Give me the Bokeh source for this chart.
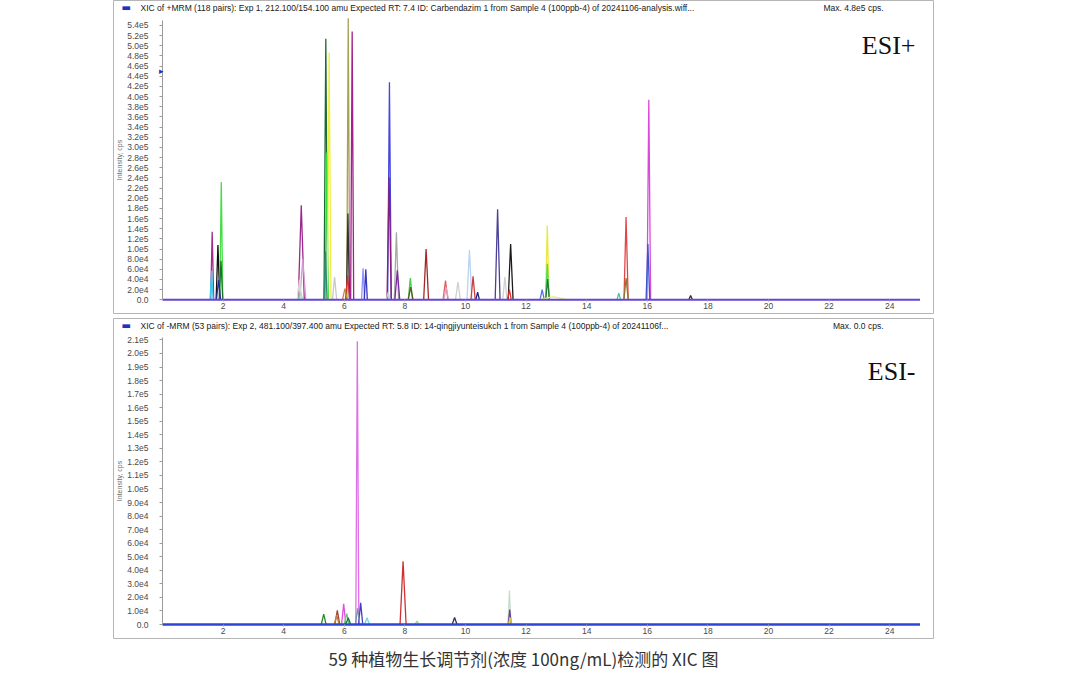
from bokeh.plotting import figure
from bokeh.layouts import column
from bokeh.models import Range1d, FixedTicker, Label, Title, ColumnDataSource
from bokeh.embed import file_html
from bokeh.resources import INLINE

# ---------------- data ----------------
time_ticks = [2, 4, 6, 8, 10, 12, 14, 16, 18, 20, 22, 24]
time_span = [0.0, 25.0]

top_y_ticks = [0, 20000, 40000, 60000, 80000, 100000, 120000, 140000, 160000, 180000,
               200000, 220000, 240000, 260000, 280000, 300000, 320000, 340000, 360000,
               380000, 400000, 420000, 440000, 460000, 480000, 500000, 520000, 540000]
top_y_labels = ["0.0", "2.0e4", "4.0e4", "6.0e4", "8.0e4", "1.0e5", "1.2e5", "1.4e5", "1.6e5",
                "1.8e5", "2.0e5", "2.2e5", "2.4e5", "2.6e5", "2.8e5", "3.0e5", "3.2e5", "3.4e5",
                "3.6e5", "3.8e5", "4.0e5", "4.2e5", "4.4e5", "4.6e5", "4.8e5", "5.0e5", "5.2e5",
                "5.4e5"]

bot_y_ticks = [0, 10000, 20000, 30000, 40000, 50000, 60000, 70000, 80000, 90000, 100000,
               110000, 120000, 130000, 140000, 150000, 160000, 170000, 180000, 190000,
               200000, 210000]
bot_y_labels = ["0.0", "1.0e4", "2.0e4", "3.0e4", "4.0e4", "5.0e4", "6.0e4", "7.0e4", "8.0e4",
                "9.0e4", "1.0e5", "1.1e5", "1.2e5", "1.3e5", "1.4e5", "1.5e5", "1.6e5", "1.7e5",
                "1.8e5", "1.9e5", "2.0e5", "2.1e5"]

# ESI+ peaks: retention time (min), height (cps), half width (min), colour
top_rt = [1.64, 1.62, 1.83, 1.94, 1.93, 1.85,
          4.58, 4.63, 4.55, 4.52,
          5.39, 5.42, 5.50, 5.38, 5.68,
          6.13, 6.12, 6.11, 6.02, 6.26, 6.62, 6.71,
          7.49, 7.48, 7.45, 7.72, 7.75,
          8.18, 8.19, 8.70, 9.34, 9.36, 9.75,
          10.13, 10.25, 10.40, 11.06, 11.30, 11.49, 11.45,
          12.70, 12.70, 12.71, 12.53, 12.90,
          15.06, 15.30, 15.30, 16.05, 16.02, 17.43]
top_height = [134000, 57000, 108000, 232000, 77000, 39000,
              186000, 80000, 18000, 40000,
              514000, 290000, 487000, 95000, 45000,
              554000, 170000, 48000, 22000, 528000, 62000, 60000,
              428000, 241000, 15000, 133000, 58000,
              43000, 25000, 100000, 38000, 24000, 35000,
              98000, 46000, 15000, 178000, 45000, 110000, 20000,
              146000, 71000, 41000, 20000, 6000,
              13000, 163000, 43000, 394000, 110000, 8500]
top_halfwidth = [0.05, 0.05, 0.06, 0.05, 0.06, 0.07,
                 0.10, 0.10, 0.07, 0.07,
                 0.06, 0.05, 0.06, 0.05, 0.07,
                 0.05, 0.05, 0.07, 0.08, 0.05, 0.05, 0.05,
                 0.06, 0.07, 0.06, 0.07, 0.08,
                 0.07, 0.08, 0.08, 0.08, 0.08, 0.08,
                 0.08, 0.07, 0.06, 0.08, 0.07, 0.08, 0.06,
                 0.06, 0.06, 0.06, 0.07, 0.50,
                 0.06, 0.07, 0.07, 0.06, 0.06, 0.06]
top_color = ["#9b2d8f", "#40c8e8", "#111111", "#44dd44", "#1e6e2e", "#2a2aa0",
             "#9a2a8c", "#d59ad5", "#66dd99", "#d8d8d8",
             "#1b6b35", "#33dd33", "#eeee44", "#2e8a70", "#c8c8c8",
             "#aaa055", "#333333", "#cc3333", "#cc8833", "#a0208c", "#9090ff", "#3535c0",
             "#4545e0", "#8a1f7a", "#bbddbb", "#a8a8a8", "#7a2aa0",
             "#44cc44", "#5a5a20", "#a02828", "#e06060", "#e0a0c0", "#d0d0d0",
             "#b8d4f0", "#c84040", "#202080", "#4a4096", "#d0d0d0", "#1a1a1a", "#e03030",
             "#e8e840", "#55dd55", "#227733", "#5577dd", "#eeee88",
             "#40c8a0", "#e04848", "#8a7a30", "#d84ad8", "#3a56c8", "#402828"]

# ESI- peaks
bot_rt = [5.32, 5.77, 5.75, 5.98, 6.08, 6.13, 6.43, 6.54, 6.44, 6.75,
          7.94, 8.40, 9.64, 11.45, 11.46, 11.47]
bot_height = [7700, 10500, 7000, 15200, 8000, 5000, 209000, 16000, 12000, 5000,
              46600, 2500, 5200, 25000, 11000, 5000]
bot_halfwidth = [0.08, 0.08, 0.08, 0.07, 0.08, 0.08, 0.05, 0.07, 0.07, 0.08,
                 0.10, 0.07, 0.08, 0.05, 0.05, 0.05]
bot_color = ["#2a8a2a", "#a04040", "#c08030", "#e050e0", "#66cc66", "#207060", "#e070e8",
             "#4040c0", "#8090b0", "#70d8e8", "#d03030", "#a0d0a0", "#303060", "#c8dccc",
             "#6a40a0", "#d8d040"]

top_title = ("XIC of +MRM (118 pairs): Exp 1, 212.100/154.100 amu Expected RT: 7.4 ID: "
             "Carbendazim 1 from Sample 4 (100ppb-4) of 20241106-analysis.wiff...")
top_max = "Max. 4.8e5 cps."
bot_title = ("XIC of -MRM (53 pairs): Exp 2, 481.100/397.400 amu Expected RT: 5.8 ID: "
             "14-qingjiyunteisukch 1 from Sample 4 (100ppb-4) of 20241106f...")
bot_max = "Max. 0.0 cps."
caption = "59 种植物生长调节剂(浓度 100ng/mL)检测的 XIC 图"

# ---------------- layout constants ----------------
W = 1064
BL, BR = 113, 131          # frame: page x 113..933
X0, X1 = -1.617, 25.446    # data 0 at page x 162


def peak_source(rt, h, hw, col):
    xs = [[r - w, r, r + w] for r, w in zip(rt, hw)]
    ys = [[0, v, 0] for v in h]
    return ColumnDataSource(dict(xs=xs, ys=ys, color=col))


def panel(height, bottom_border, y0, y1, ybound, ticks, labels):
    p = figure(width=W, height=height, x_range=Range1d(X0, X1), y_range=Range1d(y0, y1),
               output_backend="svg", toolbar_location=None,
               min_border_left=BL, min_border_right=BR, min_border_top=0,
               min_border_bottom=bottom_border)
    p.background_fill_color = "white"
    p.border_fill_color = "white"
    p.outline_line_color = "#b5b5b5"
    p.outline_line_width = 1
    p.xgrid.visible = False
    p.ygrid.visible = False

    xa = p.xaxis[0]
    ya = p.yaxis[0]
    xa.fixed_location = 0
    ya.fixed_location = 0
    xa.bounds = (time_span[0], time_span[1])
    ya.bounds = (0, ybound)
    xa.ticker = FixedTicker(ticks=time_ticks)
    ya.ticker = FixedTicker(ticks=ticks)
    ya.major_label_overrides = {t: l for t, l in zip(ticks, labels)}
    for ax in (xa, ya):
        ax.major_label_text_font = "Liberation Sans"
        ax.major_label_text_font_size = "8.5px"
        ax.major_label_text_color = "#4a4a4a"
        ax.major_tick_line_color = "#9a9a9a"
        ax.minor_tick_line_color = None
        ax.major_tick_in = 0
        ax.axis_label_text_font = "Liberation Sans"
        ax.axis_label_text_font_size = "7px"
        ax.axis_label_text_font_style = "normal"
        ax.axis_label_text_color = "#707070"
    xa.axis_line_color = None
    xa.major_tick_out = 2
    xa.major_label_standoff = 1
    xa.axis_label = "Time, min"
    xa.axis_label_standoff = 1
    ya.axis_line_color = "#9a9a9a"
    ya.major_tick_out = 3
    ya.major_label_standoff = 11
    ya.axis_label = "Intensity, cps"
    ya.axis_label_standoff = 1
    return p


# ---------- top panel (ESI+) : frame page y 0..313 ----------
H1F = 313
p1 = panel(318, 5, -26968, 589172, 550000, top_y_ticks, top_y_labels)
p1.multi_line("xs", "ys", source=peak_source(top_rt, top_height, top_halfwidth, top_color),
              line_color="color", line_width=1.3)
p1.line(time_span, [0, 0], line_color="#6446d2", line_width=2)

# ---------- bottom panel (ESI-) : frame page y 318..638 ----------
H2F = 320
p2 = panel(358, 38, -10332, 225828, 212000, bot_y_ticks, bot_y_labels)
p2.multi_line("xs", "ys", source=peak_source(bot_rt, bot_height, bot_halfwidth, bot_color),
              line_color="color", line_width=1.3)
p2.line(time_span, [0, 0], line_color="#2d44d4", line_width=2.5)


def header(p, fh, ty, title, maxtxt, esi, esi_y, marker=False):
    p.add_layout(Label(x=8, y=fh - ty, x_units="screen", y_units="screen", text="▬",
                       text_font="DejaVu Sans", text_font_size="10px", text_color="#2233bb",
                       text_baseline="middle"))
    p.add_layout(Label(x=27, y=fh - ty, x_units="screen", y_units="screen", text=title,
                       text_font="Liberation Sans", text_font_size="8.5px",
                       text_color="#202020", text_baseline="middle"))
    p.add_layout(Label(x=770, y=fh - ty, x_units="screen", y_units="screen", text=maxtxt,
                       text_align="right", text_font="Liberation Sans",
                       text_font_size="8.5px", text_color="#202020", text_baseline="middle"))
    p.add_layout(Label(x=802, y=esi_y, x_units="screen", y_units="screen", text=esi,
                       text_align="right", text_font="Liberation Serif",
                       text_font_size="26px", text_color="#111111", text_baseline="middle"))
    if marker:
        p.add_layout(Label(x=50, y=esi_y - 25, x_units="screen", y_units="screen", text="▸",
                           text_align="right", text_font="DejaVu Sans",
                           text_font_size="9px", text_color="#2233bb",
                           text_baseline="middle"))


header(p1, H1F, 7, top_title, top_max, "ESI+", 268, marker=True)
header(p2, H2F, 7, bot_title, bot_max, "ESI-", 267)

p2.add_layout(Title(text=caption, align="center", text_font="Noto Sans CJK SC",
                    text_font_size="17px", text_font_style="normal", text_color="#333333",
                    standoff=10), "below")

layout = column(p1, p2, spacing=0)
open("out.html", "w").write(file_html(layout, INLINE))
